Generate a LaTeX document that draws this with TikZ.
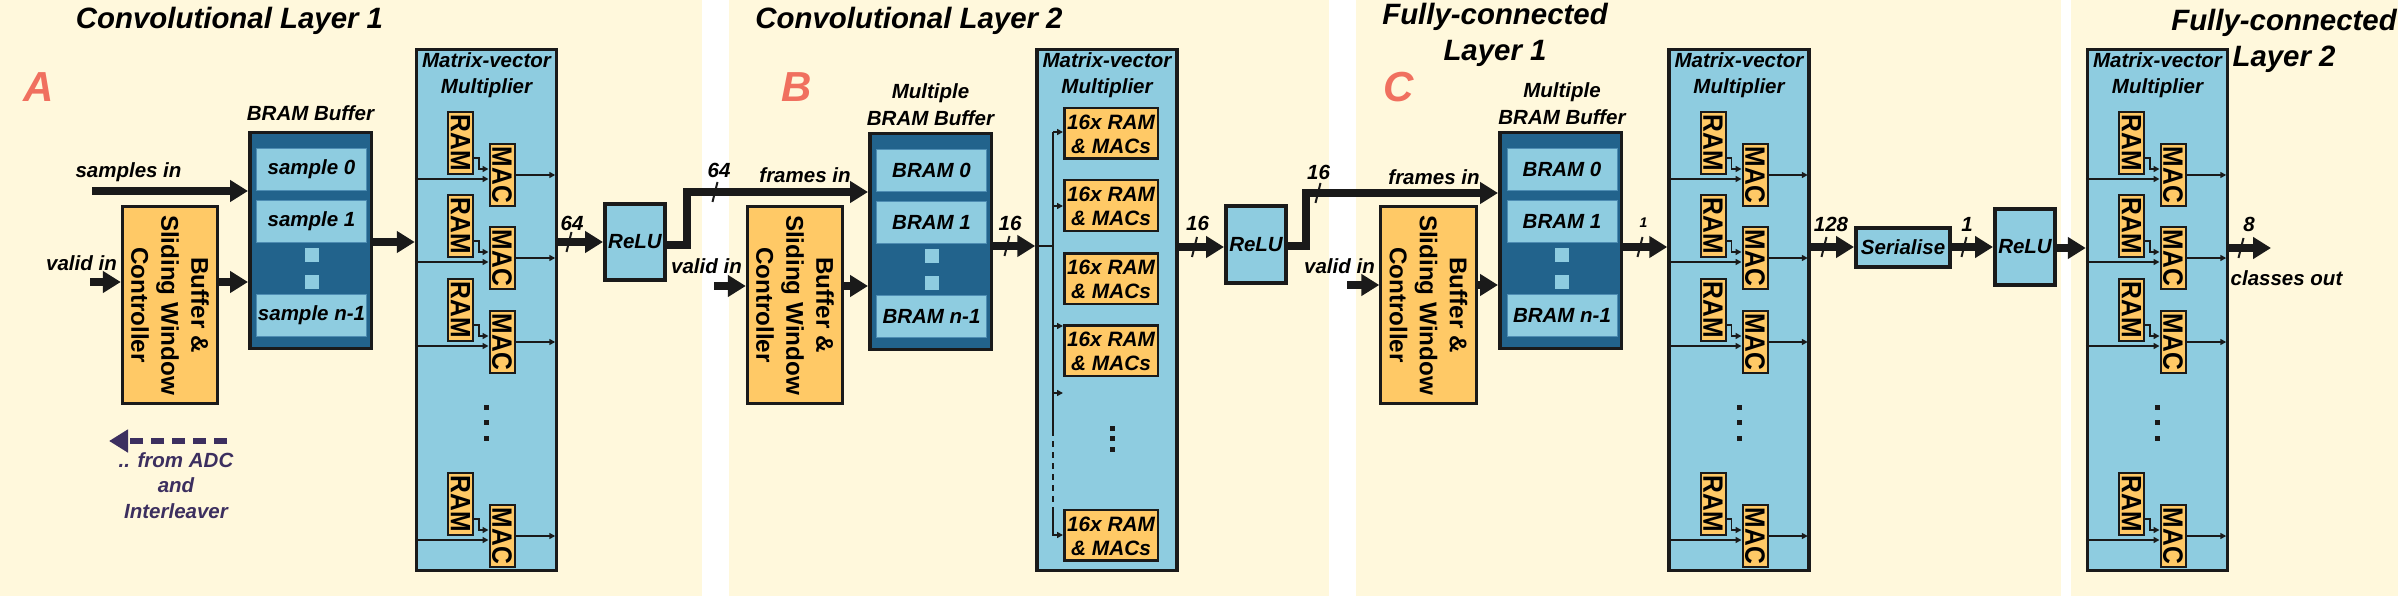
\documentclass[tikz,border=0pt]{standalone}
\usepackage{fontspec}
\setmainfont{Liberation Sans}
\usepackage{graphicx}
\usetikzlibrary{arrows.meta,calc}
\definecolor{cream}{HTML}{FFF8DC}
\definecolor{lblue}{HTML}{8ECCE0}
\definecolor{dblue}{HTML}{22638C}
\definecolor{orng}{HTML}{FFC966}
\definecolor{dk}{HTML}{1A1A1A}
\definecolor{ebd}{HTML}{4E8DB3}
\definecolor{salmon}{HTML}{F0705F}
\definecolor{purp}{HTML}{3C2F5F}
\newcommand\mlt[1]{\begin{tabular}[t]{@{}c@{}}#1\end{tabular}}
\newcommand\rotm[1]{\rotatebox{-90}{#1}}
\newcommand\rmtext[1]{\rotatebox{-90}{\scalebox{0.88}[1]{#1}}}
\newcommand\ctrltext{\rotm{\mlt{Buffer \&\\Sliding Window\\Controller}}\hspace*{5.4pt}}
\tikzset{
  lab/.style={font=\fontsize{20.5}{26}\selectfont\bfseries\itshape, inner sep=0pt},
  labb/.style={font=\fontsize{20.5}{27}\selectfont\bfseries\itshape, inner sep=0pt},
  smalllab/.style={font=\fontsize{14}{14}\selectfont\bfseries\itshape, inner sep=0pt},
  ttl/.style={font=\fontsize{29.4}{36}\selectfont\bfseries\itshape, inner sep=0pt, anchor=base},
  letter/.style={font=\fontsize{42}{42}\selectfont\bfseries\itshape, text=salmon, inner sep=0pt, anchor=base},
  mvm/.style={draw=dk, line width=3.5pt, fill=lblue, minimum width=140pt, minimum height=521pt, inner sep=0pt},
  bram/.style={draw=dk, line width=3.5pt, fill=dblue, minimum width=121.5pt, minimum height=215.5pt, inner sep=0pt},
  entry/.style={lab, draw=ebd, line width=1pt, fill=lblue, minimum width=110pt, minimum height=42pt},
  bdot/.style={fill=lblue, minimum size=14pt, inner sep=0pt},
  ctrl/.style={draw=dk, line width=3pt, fill=orng, minimum width=93pt, minimum height=197pt, inner sep=0pt, font=\fontsize{24.2}{30}\selectfont\bfseries},
  relu/.style={lab, draw=dk, line width=4pt, fill=lblue, minimum width=60pt, minimum height=76pt},
  sbox/.style={lab, draw=dk, line width=4pt, fill=lblue, minimum width=94pt, minimum height=39pt},
  mac16/.style={font=\fontsize{20.8}{24}\selectfont\bfseries\itshape, inner sep=0pt, draw=dk, line width=2.5pt, fill=orng, minimum width=93.5pt, minimum height=50.5pt, text height=20pt, text depth=28pt},
  rm/.style={draw=dk, line width=2pt, fill=orng, minimum width=25pt, minimum height=62pt, inner sep=0pt, font=\fontsize{28}{28}\selectfont\bfseries},
  mdot/.style={fill=dk, minimum size=5pt, inner sep=0pt},
  bigarr/.style={draw=dk, line width=8pt, -{Triangle[length=18pt,width=21pt]}},
  thinarr/.style={draw=dk, line width=1.8pt, -{Triangle[length=6pt,width=6pt]}},
  thinln/.style={draw=dk, line width=1.8pt},
  slash/.style={draw=dk, line width=2pt},
  fromadc/.style={draw=purp, line width=6pt, dash pattern=on 13pt off 8pt, -{Triangle[length=19pt,width=22pt]}},
}
\newcommand\slashmark[1]{\draw[slash] (#1) ++(-2.5,10) -- ++(5,-20);}
\newcommand\mvmgroups[5]{%
 \foreach \k/\y in {1/143,2/226,3/310,4/504}{%
   \node[rm] (#1r\k) at (#3,\y) {\rmtext{RAM}};
   \node[rm] (#1m\k) at (#4,\y+32) {\rmtext{MAC}};
   \coordinate (#1i\k) at ($(#1m\k.west)+(0,4)$);
   \draw[thinarr] ($(#1r\k.east)+(0,15)$) -- ++(5,0) |- ($(#1m\k.west)+(0,-6)$);
   \draw[thinarr] (#2.west |- #1i\k) -- (#1i\k);
   \draw[thinarr,shorten >=3pt] (#1m\k.east) -- (#2.east |- #1m\k.east);
 }%
 \foreach \y in {407,422,438}{\node[mdot] (#1d\y) at (#5,\y) {};}%
}
\begin{document}
\begin{tikzpicture}[x=1pt,y=-1pt]
\useasboundingbox (0,0) rectangle (2398,596);
\fill[white] (0,0) rectangle (2398,596);
\fill[cream] (0,0) rectangle (702,596);
\fill[cream] (728.6,0) rectangle (1329,596);
\fill[cream] (1356,0) rectangle (2061,596);
\fill[cream] (2071,0) rectangle (2398,596);

% ---------------- Panel 1
\node[ttl] (t1) at (229.5,29) {Convolutional Layer 1};
\node[letter] (lA) at (39,102) {A};
\node[lab,anchor=base] (bb1) at (310.5,121) {BRAM Buffer};
\node[bram] (b1) at (310.5,240.5) {};
\node[entry] (b1e0) at (311.5,169.5) {sample 0};
\node[entry] (b1e1) at (311.5,221.5) {sample 1};
\node[bdot] (b1d1) at (311.5,255) {};
\node[bdot] (b1d2) at (311.5,282) {};
\node[entry] (b1en) at (311.5,315.5) {sample n-1};
\node[ctrl] (c1) at (170,305) {\ctrltext};
\node[lab,anchor=base] (si1l) at (128.5,178) {samples in};
\node[lab,anchor=base] (vi1l) at (81.5,270) {valid in};
\coordinate (si1) at (92,191);
\coordinate (vi1) at (90,282);
\draw[bigarr] (si1) -- (si1 -| b1.west);
\draw[bigarr] (vi1) -- (vi1 -| c1.west);
\draw[bigarr] (c1.east |- vi1) -- (vi1 -| b1.west);
\node[mvm] (m1) at (486.5,310) {};
\node[lab,anchor=base] (m1t) at (486.5,68) {\mlt{Matrix-vector\\Multiplier}};
\mvmgroups{g1}{m1}{460.5}{502}{486}
\node[relu] (r1) at (635,242) {ReLU};
\coordinate (a1) at (0,242);
\draw[bigarr] (b1.east |- a1) -- (m1.west |- a1);
\draw[bigarr] (m1.east |- r1) -- (r1.west);
\node[lab,anchor=base] (l1) at (572,230) {64};
\slashmark{569,242}
\coordinate (adc0) at (227,441);
\coordinate (adc1) at (109,441);
\draw[fromadc] (adc0) -- (adc1);
\node[lab,font=\fontsize{20.5}{25.5}\selectfont\bfseries\itshape,text=purp,anchor=base] (adct) at (176,467) {\mlt{.. from ADC\\and\\Interleaver}};

% ---------------- Panel 2
\node[ttl] (t2) at (909,29) {Convolutional Layer 2};
\node[letter] (lB) at (797,102) {B};
\node[labb,anchor=base] (bb2) at (930.5,99) {\mlt{Multiple\\BRAM Buffer}};
\node[bram] (b2) at (930.5,241.5) {};
\node[entry] (b2e0) at (931.5,170.5) {BRAM 0};
\node[entry] (b2e1) at (931.5,222.5) {BRAM 1};
\node[bdot] (b2d1) at (932,256) {};
\node[bdot] (b2d2) at (932,283) {};
\node[entry] (b2en) at (931.5,316.5) {BRAM n-1};
\node[ctrl] (c2) at (795,305) {\ctrltext};
\node[lab,anchor=base] (fi2l) at (805,183) {frames in};
\node[lab,anchor=base] (vi2l) at (706.5,273) {valid in};
\coordinate (vi2) at (714,286);
\draw[bigarr] (vi2) -- (vi2 -| c2.west);
\draw[bigarr] (c2.east |- vi2) -- (vi2 -| b2.west);
\node[mvm] (m2) at (1107,310) {};
\node[lab,anchor=base] (m2t) at (1107,68) {\mlt{Matrix-vector\\Multiplier}};
\coordinate (a2) at (0,246);
\draw[bigarr] (b2.east |- a2) -- (m2.west |- a2);
\node[lab,anchor=base] (l3) at (1010,230) {16};
\slashmark{1007,246}
\foreach \k/\y in {1/133.5,2/205.5,3/278.5,4/350.5,5/535}{\node[mac16] (m2x\k) at (1111,\y) {\mlt{16x RAM\\\& MACs}};}
\coordinate (bus0) at (1053,246);
\coordinate (bt) at (1053,132);
\coordinate (bm) at (1053,430);
\coordinate (bd) at (1053,513);
\draw[thinln] (m2.west |- bus0) -- (bus0);
\draw[thinln] (bt) -- (bm);
\draw[thinln,dash pattern=on 6pt off 5pt] (bm) -- (bd);
\draw[thinarr] (bd) |- (m2x5.west);
\foreach \y in {132,206,326,393}{\coordinate (br\y) at (1053,\y); \draw[thinarr] (br\y) -- (br\y -| m2x1.west);}
\foreach \y in {428,438,449}{\node[mdot] (m2d\y) at (1112.5,\y) {};}
\node[relu] (r2) at (1256,244.5) {ReLU};
\coordinate (a3) at (0,247);
\draw[bigarr] (m2.east |- a3) -- (r2.west |- a3);
\node[lab,anchor=base] (l4) at (1197.5,230) {16};
\slashmark{1194.5,247}

% ---------------- Panel 3
\node[ttl] (t3) at (1495,25) {\mlt{Fully-connected\\Layer 1}};
\node[letter] (lC) at (1399,102) {C};
\node[labb,anchor=base] (bb3) at (1562,98) {\mlt{Multiple\\BRAM Buffer}};
\node[bram] (b3) at (1560.5,240.5) {};
\node[entry] (b3e0) at (1562,169.5) {BRAM 0};
\node[entry] (b3e1) at (1562,221.5) {BRAM 1};
\node[bdot] (b3d1) at (1562,255) {};
\node[bdot] (b3d2) at (1562,282) {};
\node[entry] (b3en) at (1562,315.5) {BRAM n-1};
\node[ctrl] (c3) at (1428.5,305) {\ctrltext};
\node[lab,anchor=base] (fi3l) at (1434,185) {frames in};
\node[lab,anchor=base] (vi3l) at (1339.5,273) {valid in};
\coordinate (vi3) at (1347,285);
\draw[bigarr] (vi3) -- (vi3 -| c3.west);
\draw[bigarr] (c3.east |- vi3) -- (vi3 -| b3.west);
\node[mvm] (m3) at (1739,310) {};
\node[lab,anchor=base] (m3t) at (1739,68) {\mlt{Matrix-vector\\Multiplier}};
\mvmgroups{g3}{m3}{1713}{1755}{1739}
\coordinate (a4) at (0,247);
\draw[bigarr] (b3.east |- a4) -- (m3.west |- a4);
\node[smalllab,anchor=base] (l6) at (1643.5,228) {1};
\slashmark{1640,247}
\node[sbox] (s3) at (1903,247.5) {Serialise};
\draw[bigarr] (m3.east |- a4) -- (s3.west |- a4);
\node[lab,anchor=base] (l7) at (1831,232) {128};
\slashmark{1824,247}
\node[relu] (r3) at (2025,247) {ReLU};
\draw[bigarr] (s3.east |- a4) -- (r3.west |- a4);
\node[lab,anchor=base] (l8) at (1967,232) {1};
\slashmark{1964,247}

% ---------------- cross-panel links
\coordinate (k1) at (687,245);
\coordinate (f2) at (0,192);
\draw[bigarr] (r1.east |- k1) -- (k1) |- (b2.west |- f2);
\node[lab,anchor=base] (l2) at (719,178) {64};
\slashmark{715,192}
\coordinate (k2) at (1306,246);
\coordinate (f3) at (0,193);
\draw[bigarr] (r2.east |- k2) -- (k2) |- (b3.west |- f3);
\node[lab,anchor=base] (l5) at (1318.5,180) {16};
\slashmark{1318,193}

% ---------------- Panel 4
\node[ttl] (t4) at (2284,31) {\mlt{Fully-connected\\Layer 2}};
\node[mvm] (m4) at (2157.5,310) {};
\node[lab,anchor=base] (m4t) at (2157.5,68) {\mlt{Matrix-vector\\Multiplier}};
\mvmgroups{g4}{m4}{2131.5}{2173}{2157}
\coordinate (a5) at (0,248);
\draw[bigarr] (r3.east |- a5) -- (m4.west |- a5);
\coordinate (out) at (2271,248);
\draw[bigarr] (m4.east |- a5) -- (out);
\node[lab,anchor=base] (l9) at (2249,232) {8};
\slashmark{2241,248}
\node[lab,anchor=base] (co) at (2286.5,285) {classes out};
\end{tikzpicture}
\end{document}
